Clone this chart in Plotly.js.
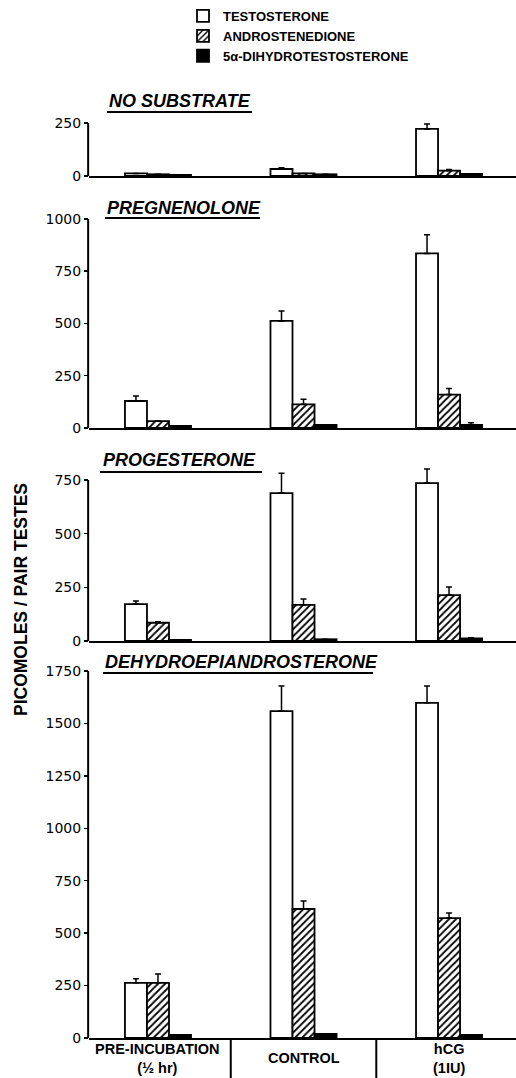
<!DOCTYPE html>
<html><head><meta charset="utf-8">
<script src="https://cdn.plot.ly/plotly-3.0.1.min.js"></script>
<style>html,body{margin:0;padding:0;background:#fff;}</style>
</head><body>
<div id="chart" style="width:516px;height:1078px;"></div>
<script>
// ---- data ----
const groups = ['PRE-INCUBATION', 'CONTROL', 'hCG'];
const groupLabels = ['PRE-INCUBATION<br>(½ hr)', 'CONTROL', 'hCG<br>(1IU)'];
const panelTitles = ['NO SUBSTRATE', 'PREGNENOLONE', 'PROGESTERONE', 'DEHYDROEPIANDROSTERONE'];
const seriesNames = ['TESTOSTERONE', 'ANDROSTENEDIONE', '5α-DIHYDROTESTOSTERONE'];
const yMax = [250, 1000, 750, 1750];
const yTicks = [0, 250, 500, 750, 1000, 1250, 1500, 1750];
const testosterone    = [[12, 33, 222], [129, 512, 835], [172, 689, 736], [263, 1559, 1598]];
const testosteroneErr = [[null, 6, 23], [24, 48, 90], [14, 93, 65], [19, 120, 81]];
const androstenedione    = [[8, 12, 25], [33, 113, 160], [85, 168, 214], [263, 615, 572]];
const androstenedioneErr = [[null, null, 5], [null, 24, 29], [5, 28, 38], [42, 38, 24]];
const dht    = [[5, 8, 10], [10, 15, 15], [5, 8, 12], [15, 20, 15]];
const dhtErr = [[null, null, null], [null, null, 10], [null, null, 3], [null, null, null]];

// ---- layout geometry ----
const W = 516, H = 1078, ML = 89, MR = 0, MT = 123, MB = 40;
const PW = W - ML - MR, PH = H - MT - MB;
const px2x = p => (p - ML) / PW;
const py2y = p => (H - MB - p) / PH;
const baseDomains = [[0.9421, 1.0], [0.6667, 0.8951], [0.4339, 0.6098], [0, 0.4011]];
const titleY = [101, 208, 460, 662];
const ulineY = [112, 218, 472, 673];
const ulineX = [[107, 252], [105, 260], [100, 262], [103, 373]];
const titleX = [107, 105, 101, 103];

const seriesVals = [testosterone, androstenedione, dht];
const seriesErr = [testosteroneErr, androstenedioneErr, dhtErr];
const seriesMarker = [
  {color: '#ffffff', line: {color: '#000', width: 1.8}},
  {color: '#ffffff', line: {color: '#000', width: 1.8},
   pattern: {shape: '/', fgcolor: '#000', bgcolor: '#fff', size: 5, solidity: 0.35}},
  {color: '#000000', line: {color: '#000', width: 1.8}}
];

const data = [];
const layout = {
  width: W, height: H,
  margin: {l: ML, r: MR, t: MT, b: MB},
  paper_bgcolor: '#fff', plot_bgcolor: 'rgba(0,0,0,0)',
  barmode: 'group', bargap: 0.546, bargroupgap: 0,
  showlegend: true,
  legend: {x: px2x(183), y: py2y(1), xanchor: 'left', yanchor: 'top',
           tracegroupgap: 0,
           bgcolor: 'rgba(0,0,0,0)', borderwidth: 0,
           font: {family: 'Liberation Sans, Arial, sans-serif', size: 13, color: '#000', weight: 'bold'}},
  annotations: [], shapes: [],
  font: {family: 'DejaVu Sans, sans-serif', color: '#000'}
};

for (let p = 0; p < 4; p++) {
  const sfx = p === 0 ? '' : String(p + 1);
  // highest drawn point (bar + upper error) so error bars above the last tick are not clipped
  let top = yMax[p];
  for (let s = 0; s < 3; s++) {
    seriesVals[s][p].forEach((v, i) => {
      const e = seriesErr[s][p][i] || 0;
      top = Math.max(top, (v + e) * 1.02);
    });
  }
  const d0 = baseDomains[p][0], dh = baseDomains[p][1] - baseDomains[p][0];
  const dom = [d0, Math.min(1, d0 + dh * top / yMax[p])];

  for (let s = 0; s < 3; s++) {
    data.push({
      type: 'bar', x: groups, y: seriesVals[s][p], name: seriesNames[s],
      xaxis: 'x' + sfx, yaxis: 'y' + sfx,
      marker: seriesMarker[s], showlegend: p === 0,
      error_y: {type: 'data', symmetric: false, array: seriesErr[s][p],
                arrayminus: [0, 0, 0], color: '#000', thickness: 1.5, width: 3},
      hoverinfo: 'skip'
    });
  }
  layout['xaxis' + sfx] = {
    domain: [0, 1], anchor: 'y' + sfx, range: [-0.474, 2.46], type: 'category',
    showline: true, linecolor: '#000', linewidth: 2, showticklabels: false,
    ticks: '', showgrid: false, zeroline: false, fixedrange: true
  };
  layout['yaxis' + sfx] = {
    domain: dom, anchor: 'x' + sfx, range: [0, top],
    tickvals: yTicks.filter(v => v <= yMax[p]),
    showline: false,
    ticks: 'outside', ticklen: 4, tickwidth: 1.5, tickcolor: '#000',
    showgrid: false, zeroline: false, fixedrange: true,
    tickfont: {family: 'DejaVu Sans, sans-serif', size: 14, color: '#000'}
  };
  // y axis line only up to the last tick
  layout.shapes.push({
    type: 'line', xref: 'paper', yref: 'y' + sfx, x0: -0.002, x1: -0.002, y0: 0, y1: yMax[p],
    line: {color: '#000', width: 2}
  });
  layout.annotations.push({
    xref: 'paper', yref: 'paper', x: px2x(titleX[p]), y: py2y(titleY[p]),
    xanchor: 'left', yanchor: 'middle', showarrow: false,
    text: '<b><i>' + panelTitles[p] + '</i></b>',
    font: {family: 'Liberation Sans, Arial, sans-serif', size: 18, color: '#000'}
  });
  layout.shapes.push({
    type: 'line', xref: 'paper', yref: 'paper',
    x0: px2x(ulineX[p][0]), x1: px2x(ulineX[p][1]),
    y0: py2y(ulineY[p]), y1: py2y(ulineY[p]),
    line: {color: '#000', width: 2}
  });
}

// category boxes under the bottom panel
[-0.5, 0.5, 1.5].forEach(v => {
  layout.shapes.push({type: 'line', xref: 'x4', yref: 'paper', x0: v, x1: v,
    y0: 0, y1: py2y(H), line: {color: '#000', width: 2}});
});
groups.forEach((g, i) => {
  layout.annotations.push({
    xref: 'x4', yref: 'paper', x: i, y: py2y(1058), xanchor: 'center', yanchor: 'middle',
    showarrow: false, text: '<b>' + groupLabels[i] + '</b>',
    font: {family: 'Liberation Sans, Arial, sans-serif', size: 14.5, color: '#000'}
  });
});

// y axis title
layout.annotations.push({
  xref: 'paper', yref: 'paper', x: px2x(21), y: py2y(600), xanchor: 'center', yanchor: 'middle',
  showarrow: false, textangle: -90, text: '<b>PICOMOLES / PAIR TESTES</b>',
  font: {family: 'Liberation Sans, Arial, sans-serif', size: 17.5, color: '#000'}
});

Plotly.newPlot('chart', data, layout, {displayModeBar: false, staticPlot: true});
</script>
</body></html>
